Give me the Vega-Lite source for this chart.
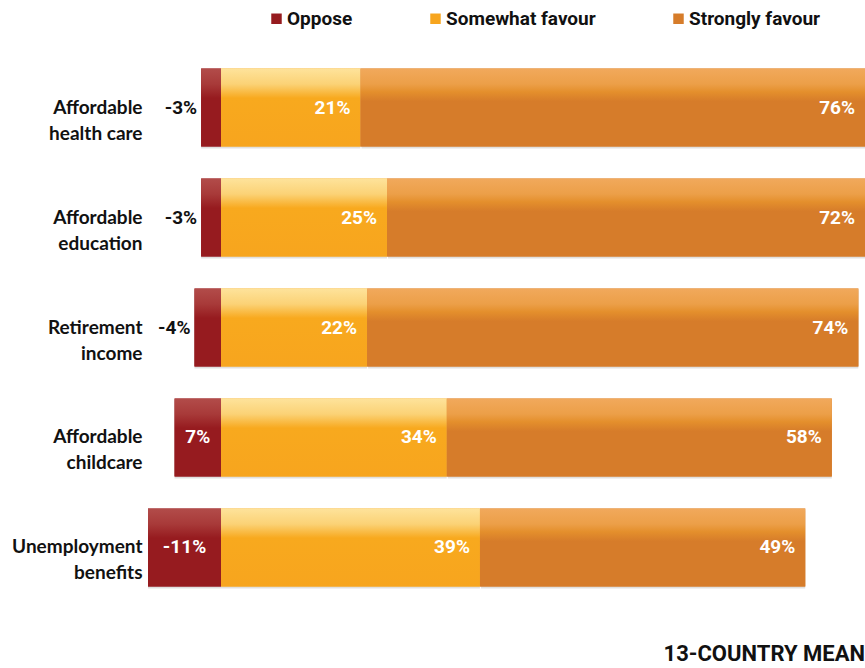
{
  "$schema": "https://vega.github.io/schema/vega-lite/v6.json",
  "autosize": {"type": "none"},
  "padding": {"left": 148, "top": 52, "right": 0, "bottom": 65},
  "width": 717,
  "height": 551,
  "background": "white",
  "title": {
    "text": "13-COUNTRY MEAN",
    "orient": "bottom",
    "anchor": "end",
    "frame": "group",
    "font": "Roboto",
    "fontSize": 22,
    "fontWeight": "bold",
    "color": "#111111",
    "offset": 41
  },
  "config": {
    "view": {"stroke": null},
    "font": "Roboto"
  },
  "data": {
    "values": [
      {"category": "Affordable\nhealth care", "series": "Oppose", "order": 0, "value": -3, "label": "-3%"},
      {"category": "Affordable\nhealth care", "series": "Somewhat favour", "order": 1, "value": 21, "label": "21%"},
      {"category": "Affordable\nhealth care", "series": "Strongly favour", "order": 2, "value": 76, "label": "76%"},
      {"category": "Affordable\neducation", "series": "Oppose", "order": 0, "value": -3, "label": "-3%"},
      {"category": "Affordable\neducation", "series": "Somewhat favour", "order": 1, "value": 25, "label": "25%"},
      {"category": "Affordable\neducation", "series": "Strongly favour", "order": 2, "value": 72, "label": "72%"},
      {"category": "Retirement\nincome", "series": "Oppose", "order": 0, "value": -4, "label": "-4%"},
      {"category": "Retirement\nincome", "series": "Somewhat favour", "order": 1, "value": 22, "label": "22%"},
      {"category": "Retirement\nincome", "series": "Strongly favour", "order": 2, "value": 74, "label": "74%"},
      {"category": "Affordable\nchildcare", "series": "Oppose", "order": 0, "value": -7, "label": "7%"},
      {"category": "Affordable\nchildcare", "series": "Somewhat favour", "order": 1, "value": 34, "label": "34%"},
      {"category": "Affordable\nchildcare", "series": "Strongly favour", "order": 2, "value": 58, "label": "58%"},
      {"category": "Unemployment\nbenefits", "series": "Oppose", "order": 0, "value": -11, "label": "-11%"},
      {"category": "Unemployment\nbenefits", "series": "Somewhat favour", "order": 1, "value": 39, "label": "39%"},
      {"category": "Unemployment\nbenefits", "series": "Strongly favour", "order": 2, "value": 49, "label": "49%"}
    ]
  },
  "transform": [
    {"stack": "value", "groupby": ["category"], "sort": [{"field": "order", "order": "ascending"}], "as": ["v0", "v1"]}
  ],
  "encoding": {
    "y": {
      "field": "category",
      "type": "nominal",
      "sort": ["Affordable\nhealth care", "Affordable\neducation", "Retirement\nincome", "Affordable\nchildcare", "Unemployment\nbenefits"],
      "scale": {"paddingInner": 0.29, "paddingOuter": 0.15},
      "axis": {
        "title": null,
        "domain": false,
        "ticks": false,
        "labelPadding": 6,
        "labelAlign": "right",
        "labelFont": "Lato",
        "labelFontWeight": "bold",
        "labelFontSize": 19,
        "labelColor": "#111111",
        "labelLineHeight": 26,
        "labelLimit": 200,
        "labelExpr": "split(datum.label, '\\n')"
      }
    }
  },
  "layer": [
    {
      "mark": {"type": "bar", "color": "#000000", "opacity": 0.12, "yOffset": 2, "xOffset": 1},
      "encoding": {
        "x": {"field": "v0", "type": "quantitative", "scale": {"domain": [-11, 97], "nice": false, "zero": false}, "axis": null},
        "x2": {"field": "v1"}
      }
    },
    {
      "mark": {"type": "bar"},
      "encoding": {
        "x": {"field": "v0", "type": "quantitative"},
        "x2": {"field": "v1"},
        "color": {
          "field": "series",
          "type": "nominal",
          "scale": {"domain": ["Oppose", "Somewhat favour", "Strongly favour"], "range": ["#961B1F", "#F7A51E", "#D67C2A"]},
          "legend": {
            "title": null,
            "orient": "none",
            "direction": "horizontal",
            "legendX": 119,
            "legendY": -43,
            "symbolType": "square",
            "symbolSize": 110,
            "symbolOpacity": 1,
            "labelOffset": 1,
            "columnPadding": 73,
            "labelLimit": 300,
            "labelFont": "Roboto",
            "labelFontWeight": "bold",
            "labelFontSize": 19,
            "labelColor": "#111111"
          }
        }
      }
    },
    {
      "transform": [{"filter": "datum.series == 'Oppose'"}],
      "mark": {
        "type": "bar",
        "fill": {
          "gradient": "linear",
          "x1": 0, "y1": 0, "x2": 0, "y2": 1,
          "stops": [
            {"offset": 0, "color": "#B24C4A"},
            {"offset": 0.2, "color": "#A83A39"},
            {"offset": 0.38, "color": "#961B1F"},
            {"offset": 1, "color": "#961B1F"}
          ]
        }
      },
      "encoding": {
        "x": {"field": "v0", "type": "quantitative"},
        "x2": {"field": "v1"}
      }
    },
    {
      "transform": [{"filter": "datum.series == 'Somewhat favour'"}],
      "mark": {
        "type": "bar",
        "fill": {
          "gradient": "linear",
          "x1": 0, "y1": 0, "x2": 0, "y2": 1,
          "stops": [
            {"offset": 0, "color": "#FEE39B"},
            {"offset": 0.2, "color": "#FBD276"},
            {"offset": 0.38, "color": "#F8A91E"},
            {"offset": 1, "color": "#F7A51E"}
          ]
        }
      },
      "encoding": {
        "x": {"field": "v0", "type": "quantitative"},
        "x2": {"field": "v1"}
      }
    },
    {
      "transform": [{"filter": "datum.series == 'Strongly favour'"}],
      "mark": {
        "type": "bar",
        "fill": {
          "gradient": "linear",
          "x1": 0, "y1": 0, "x2": 0, "y2": 1,
          "stops": [
            {"offset": 0, "color": "#F1A95C"},
            {"offset": 0.2, "color": "#EC9F48"},
            {"offset": 0.3, "color": "#E48F2C"},
            {"offset": 0.42, "color": "#D67C2A"},
            {"offset": 1, "color": "#D67C2A"}
          ]
        }
      },
      "encoding": {
        "x": {"field": "v0", "type": "quantitative"},
        "x2": {"field": "v1"}
      }
    },
    {
      "mark": {"type": "rule", "color": "#9a9a9a", "strokeWidth": 1.5},
      "encoding": {"x": {"datum": 0, "type": "quantitative"}}
    },
    {
      "transform": [{"filter": "datum.series != 'Oppose'"}],
      "mark": {"type": "text", "align": "right", "baseline": "middle", "dx": -10, "color": "white", "font": "Roboto", "fontWeight": "bold", "fontSize": 19},
      "encoding": {
        "x": {"field": "v1", "type": "quantitative"},
        "text": {"field": "label"}
      }
    },
    {
      "transform": [{"filter": "datum.series == 'Oppose' && datum.value > -5"}],
      "mark": {"type": "text", "align": "right", "baseline": "middle", "dx": -4, "color": "#111111", "font": "Roboto", "fontWeight": "bold", "fontSize": 19},
      "encoding": {
        "x": {"field": "v1", "type": "quantitative"},
        "text": {"field": "label"}
      }
    },
    {
      "transform": [{"filter": "datum.series == 'Oppose' && datum.value <= -5"}, {"calculate": "datum.v1 / 2", "as": "mid"}],
      "mark": {"type": "text", "align": "center", "baseline": "middle", "color": "white", "font": "Roboto", "fontWeight": "bold", "fontSize": 19},
      "encoding": {
        "x": {"field": "mid", "type": "quantitative"},
        "text": {"field": "label"}
      }
    }
  ]
}
